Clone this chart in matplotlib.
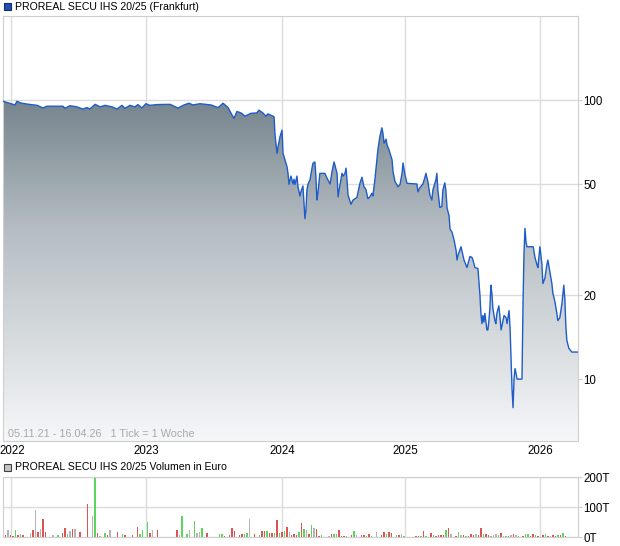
import matplotlib
matplotlib.use("Agg")
import matplotlib.pyplot as plt
from matplotlib.colors import LinearSegmentedColormap
from matplotlib.patches import Rectangle
from matplotlib.transforms import ScaledTranslation
import numpy as np

plt.rcParams["font.family"] = ["Liberation Sans", "DejaVu Sans"]

TITEL = "PROREAL SECU IHS 20/25 (Frankfurt)"
TITEL_VOL = "PROREAL SECU IHS 20/25 Volumen in Euro"
ZEITRAUM = "05.11.21 - 16.04.26   1 Tick = 1 Woche"

# Wochenindex auf der Chartachse (1 Tick = 1 Woche) und Kurs
wochen = [0, 4.8, 5.6, 7.2, 10.4, 13.7, 16.1, 17.5, 24.1, 24.9, 26.9, 29.7, 32.1, 33.7, 34.9,
          37.0, 39.0, 41.0, 43.8, 45.8, 47.8, 49.0, 51.0, 53.0, 54.2, 55.8, 57.4, 59.0, 61.9,
          67.1, 70.3, 72.7, 74.7, 76.3, 79.1, 83.6, 86.4, 88.4, 90.4, 92.0, 92.8, 94.0, 95.7,
          97.2, 99.6, 102.0, 102.8, 104.4, 105.6, 106.4, 108.5, 108.9, 109.3, 110.1, 110.5,
          111.3, 112.1, 112.5, 113.3, 114.1, 114.5, 114.9, 115.7, 116.5, 116.9, 117.3, 118.1,
          118.5, 119.3, 119.7, 120.5, 120.9, 121.3, 121.7, 122.1, 122.5, 123.3, 124.5, 125.3,
          125.7, 126.1, 126.5, 127.3, 129.3, 130.2, 131.4, 132.2, 133.0, 134.2, 134.6, 135.4,
          136.2, 136.6, 137.4, 137.8, 138.2, 138.6, 139.8, 140.6, 142.2, 143.4, 144.2, 145.0,
          145.8, 146.6, 147.4, 148.2, 148.6, 149.4, 150.2, 150.6, 151.4, 152.2, 152.6, 153.1,
          153.9, 154.3, 155.1, 156.3, 156.7, 157.5, 158.7, 159.5, 160.3, 160.7, 161.5, 162.3,
          166.3, 166.7, 167.5, 168.7, 169.5, 169.9, 170.7, 171.5, 172.3, 172.7, 173.9, 174.3,
          174.7, 175.5, 176.3, 176.7, 177.5, 177.9, 178.4, 179.2, 179.6, 180.4, 181.2, 182.0,
          182.4, 182.8, 184.0, 185.2, 186.4, 187.6, 188.4, 188.8, 189.6, 190.8, 191.6, 192.0,
          192.4, 192.8, 193.2, 193.6, 194.4, 194.8, 195.2, 195.6, 196.0, 196.4, 196.8, 197.6,
          198.0, 198.4, 199.2, 199.6, 200.1, 200.9, 201.3, 202.1, 202.5, 203.3, 203.7, 204.1,
          204.5, 204.9, 205.3, 205.7, 206.1, 206.5, 208.5, 208.9, 209.3, 209.7, 210.1, 210.5,
          213.0, 213.7, 214.5, 214.9, 215.7, 216.5, 216.9, 217.7, 218.5, 218.9, 219.7, 220.5,
          220.9, 221.7, 222.5, 222.9, 223.7, 224.5, 224.9, 225.3, 225.7, 226.1, 226.5, 227.3,
          228.5, 231.0]
kurs = [99, 96, 99, 97.5, 96.5, 95.7, 93.6, 95, 95, 93.4, 95.4, 94.5, 92.8, 94, 92.8,
        96.5, 94.5, 95.7, 94.5, 92.8, 95.7, 93.3, 95.7, 94.5, 96.3, 93.6, 97, 95.7, 96.3,
        96.5, 93.6, 96, 97.4, 96, 97, 96, 93.9, 97.4, 94, 88.4, 86, 91, 89.8,
        87.5, 89.6, 89.9, 92, 89.9, 87.5, 89.2, 87.5, 87, 74.6, 64.4, 68,
        74, 78, 64.4, 61, 57.7, 54.6, 49.9, 53.4, 50, 52, 49.8, 53.4,
        48.9, 45.3, 47, 49.2, 43.3, 37.6, 40.3, 47.6, 49.8, 51.7, 59.3, 60,
        53.3, 43.8, 46.3, 54.6, 54.6, 52.4, 50, 55.5, 60, 54.6, 45, 49.8,
        54.6, 53.4, 54.6, 57, 51.7, 45.7, 42.3, 43.8, 44.8, 50.3, 52.9, 48.9,
        47.8, 44.3, 45, 46.3, 45.3, 51.7, 61, 66.2, 74, 79.5, 76.5, 70,
        72.4, 69, 66.2, 61, 55.3, 51, 48.9, 49.8, 54.6, 59.5, 53.9, 50.3,
        50, 46.9, 48.6, 50, 52.9, 54.6, 51, 45.7, 43.8, 47.6, 51.7, 54.6,
        47.6, 41.2, 41.5, 47.5, 50.5, 47.6, 41, 38.5, 34.5, 33.6, 31.5, 29,
        26.7, 27.8, 29.8, 26.7, 25.1, 27.5, 27.3, 26.7, 25.1, 24.9, 20, 17.2,
        15.8, 16.9, 16, 17.2, 15, 15, 16.2, 17.9, 21.7, 20.3, 17.9, 16.2,
        15.8, 17.2, 18.3, 16.9, 15, 16.2, 16.9, 16.6, 15.8, 17.6, 15.3, 11.7,
        9.2, 7.9, 10, 10.9, 10.5, 10, 10, 18.4, 28.2, 34.7, 31.1, 29.8,
        29.8, 27.3, 25.7, 25.1, 29.8, 25.8, 22, 23, 25.7, 26.7, 24.3, 22,
        20.3, 19, 17.2, 16.2, 16.6, 18.5, 20, 21.7, 19.5, 15.6, 13.8, 12.9,
        12.5, 12.5]

# Volumen in Tausend Euro; g = gestiegen, r = gefallen, n = unveraendert
vol_wochen = [1, 2, 3, 4, 5, 6, 7, 8, 11, 12, 13, 14, 15, 16, 17, 20, 22, 24, 25, 26, 27,
              28, 29, 31, 34, 36, 37, 38, 39, 41, 42, 43, 46, 48, 49, 52, 54, 55, 56, 58,
              59, 60, 62, 70, 71, 72, 74, 75, 77, 78, 79, 80, 82, 87, 88, 89, 91, 92, 93,
              95, 96, 97, 98, 99, 101, 103, 104, 105, 106, 107, 108, 109, 110, 111, 112,
              113, 114, 115, 116, 117, 118, 119, 120, 121, 122, 123, 124, 125, 126, 127,
              128, 131, 132, 133, 134, 135, 136, 137, 138, 140, 141, 142, 144, 145, 146,
              147, 148, 150, 152, 153, 154, 155, 156, 158, 159, 160, 161, 166, 167, 168,
              169, 170, 172, 173, 174, 175, 176, 177, 178, 179, 180, 182, 183, 184, 185,
              186, 187, 188, 189, 190, 191, 192, 193, 194, 195, 196, 197, 198, 199, 200,
              201, 202, 203, 204, 205, 206, 207, 209, 210, 211, 212, 213, 214, 215, 217,
              218, 219, 220, 221, 222, 223, 224, 225, 226]
vol_wert = [5.6, 22, 5.6, 3, 22, 5.6, 11, 5.6, 13, 22, 90, 17, 28, 60, 17, 5.6, 5.6, 15,
            30, 9, 19, 26, 26, 17, 111, 71, 200, 13, 3, 13, 5.6, 22, 17, 9, 5.6, 5.6, 34,
            9, 22, 51, 13, 22, 22, 22, 5.6, 71, 9, 22, 53, 13, 17, 30, 13, 9, 11, 3, 5.6,
            30, 19, 5.6, 9, 9, 13, 60, 9, 5.6, 19, 19, 19, 13, 13, 13, 56, 13, 17, 19, 33,
            17, 5.6, 9, 5.6, 17, 47, 26, 22, 9, 39, 30, 26, 3, 5.6, 3, 9, 9, 9, 22, 3, 3,
            3, 5.6, 19, 5.6, 5.6, 5.6, 3, 9, 3, 16, 5.6, 16, 11, 16, 13, 5.6, 5.6, 9, 3, 3,
            3, 3, 19, 3, 13, 5.6, 3, 5.6, 5.6, 5.6, 22, 30, 9, 3, 17, 5.6, 5.6, 3, 3, 9,
            5.6, 9, 5.6, 30, 9, 9, 5.6, 3, 5.6, 9, 5.6, 13, 3, 3, 3, 5.6, 9, 5.6, 3, 3, 9,
            9, 3, 9, 5.6, 3, 5.6, 9, 3, 3, 5.6, 3, 5.6, 5.6, 13, 3]
vol_richtung = list("rnrrgrgrnrnrnrrngrrgnrnrrngrngrnrgrrrgggrnrrnggngnngrggrrrrrrggnrgrrgrr"
                    "grgrgrnrrrgrgnrgnrrgnrggrrrgrgnrrgrgnrrgrrgrngrrgrgrgrrrrgrnrgnrgrrrnrrgrr"
                    "gnngrngrnrngrggrrgrrg")

jahre = ["2022", "2023", "2024", "2025", "2026"]
jahr_wochen = [3.2, 57.4, 112.1, 161.5, 215.7]

kurs_ticks = [10, 20, 50, 100]
vol_ticks = [0, 100, 200]
vol_labels = ["0T", "100T", "200T"]

FARBEN = {"g": "#5ad65a", "r": "#dc5454", "n": "#b4b4b4"}
GRID = "#dcdcdc"
RAND = "#cfcfcf"

fig = plt.figure(figsize=(6.2, 5.46), dpi=100)
ax = fig.add_axes([3 / 620, 1 - 441 / 546, 575 / 620, 425 / 546])
axv = fig.add_axes([3 / 620, 1 - 537 / 546, 575 / 620, 60 / 546])

# Kurschart
ax.set_yscale("log")
x = np.array(wochen)
y = np.array(kurs)
flaeche = ax.fill_between(x, y, 1.0, facecolor="none", edgecolor="none")
verlauf = LinearSegmentedColormap.from_list("verlauf", ["#f6f7f9", "#b5bdc2", "#4d5f6b"])
grad = np.linspace(0, 1, 256).reshape(-1, 1)
img = ax.imshow(grad, extent=[0, 1, 0, 1], transform=ax.transAxes, origin="lower",
                aspect="auto", cmap=verlauf, zorder=1, interpolation="bilinear")
img.set_clip_path(flaeche.get_paths()[0], transform=ax.transData)
ax.plot(x, y, color="#1e5cc8", lw=1.0, zorder=3)
ax.set_xlim(0, 231)
ax.set_ylim(6.0, 200)

ax.set_yticks(kurs_ticks)
ax.set_yticklabels([str(t) for t in kurs_ticks])
ax.yaxis.set_minor_locator(matplotlib.ticker.NullLocator())
ax.yaxis.tick_right()
ax.set_xticks(jahr_wochen)
ax.set_xticklabels(jahre)
ax.tick_params(axis="y", length=3, color=RAND, labelsize=8.3, pad=1)
ax.tick_params(axis="x", length=0, labelsize=8.3, pad=3)
# erstes Jahreslabel minimal nach rechts, damit es nicht am Rand abgeschnitten wird
erstes = ax.get_xticklabels()[0]
erstes.set_transform(erstes.get_transform() + ScaledTranslation(1.5 / 100, 0, fig.dpi_scale_trans))
ax.grid(True, color=GRID, lw=1.0, zorder=0)
ax.set_axisbelow(True)
for s in ax.spines.values():
    s.set_color(RAND)
ax.text(5 / 575, 2 / 425, ZEITRAUM, transform=ax.transAxes, fontsize=7.8,
        color="#a9a9a9", va="bottom", ha="left", zorder=4)

# Volumenchart
farben = [FARBEN[c] for c in vol_richtung]
axv.bar(vol_wochen, vol_wert, width=0.6, color=farben, zorder=2, antialiased=False)
axv.set_xlim(0, 231)
axv.set_ylim(0, 201)
axv.set_yticks(vol_ticks)
axv.set_yticklabels(vol_labels)
axv.yaxis.tick_right()
axv.set_xticks(jahr_wochen)
axv.set_xticklabels([])
axv.tick_params(axis="y", length=3, color=RAND, labelsize=8.3, pad=1)
axv.tick_params(axis="x", length=0)
axv.grid(True, color=GRID, lw=1.0, zorder=0)
axv.set_axisbelow(True)
for s in axv.spines.values():
    s.set_color(RAND)

# Legenden-Titel mit Kaestchen
fig.patches.append(Rectangle((4 / 620, 1 - 10 / 546), 7 / 620, 7 / 546, transform=fig.transFigure,
                             facecolor="#1f4fb8", edgecolor="#1a2a50", lw=0.8))
fig.text(15 / 620, 1 - 6.5 / 546, TITEL, fontsize=7.6, va="center", ha="left")
fig.patches.append(Rectangle((4 / 620, 1 - 471 / 546), 7 / 620, 7 / 546, transform=fig.transFigure,
                             facecolor="#c4c4c4", edgecolor="#404040", lw=0.8))
fig.text(15 / 620, 1 - 467.5 / 546, TITEL_VOL, fontsize=7.6, va="center", ha="left")

fig.savefig("out.png", dpi=100)
